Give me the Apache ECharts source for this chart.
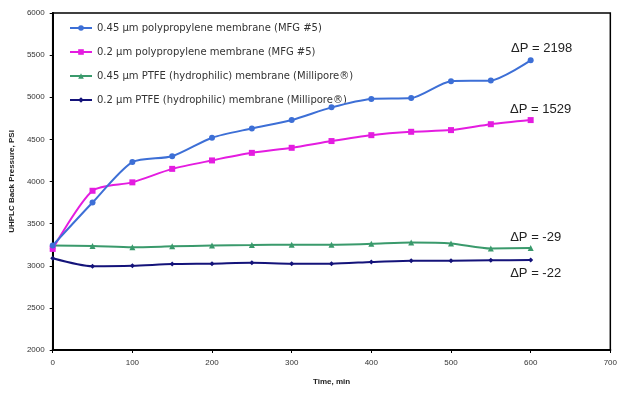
<!DOCTYPE html>
<html><head><meta charset="utf-8">
<script src="https://cdn.jsdelivr.net/npm/echarts@6/dist/echarts.min.js"></script>
<style>html,body{margin:0;padding:0;background:#fff}#c{width:620px;height:395px}</style>
</head><body><div id="c"></div>
<script>
const times = [0,50,100,150,200,250,300,350,400,450,500,550,600];
const seriesNames = [
  "0.45 µm polypropylene membrane (MFG #5)",
  "0.2 µm polypropylene membrane (MFG #5)",
  "0.45 µm PTFE (hydrophilic) membrane (Millipore®)",
  "0.2 µm PTFE (hydrophilic) membrane (Millipore®)"
];
const pp045 = [3240,3750,4230,4300,4520,4630,4730,4880,4980,4990,5190,5200,5438];
const pp02  = [3200,3890,3990,4150,4250,4340,4400,4480,4550,4590,4610,4680,4729];
const ptfe045 = [3240,3235,3220,3230,3240,3245,3250,3250,3260,3275,3265,3205,3211];
const ptfe02  = [3090,2995,3000,3020,3025,3035,3025,3025,3045,3060,3060,3065,3068];
const deltaLabels = ["ΔP = 2198","ΔP = 1529","ΔP = -29","ΔP = -22"];
const yTicks = [2000,2500,3000,3500,4000,4500,5000,5500,6000];
const xTicks = [0,100,200,300,400,500,600,700];

const colors = ['#3d6fd6','#e41ce0','#3a9a6c','#14137a'];
const symbols = ['circle','rect','triangle','diamond'];
const symSizes = [6,6,6,5];
const labelOffsets = [[11,-12],[10,-11],[5,-11],[5,13]];
const allData = [pp045,pp02,ptfe045,ptfe02];

const series = allData.map((vals,i)=>({
  name: seriesNames[i],
  type:'line',
  smooth:0.25,
  data: times.map((t,j)=>[t,vals[j]]),
  symbol: symbols[i],
  symbolSize: symSizes[i],
  lineStyle:{color:colors[i],width:2},
  itemStyle:{color:colors[i]},
  z: 10-i,
  markPoint:{
    symbol:'circle', symbolSize:0,
    data:[{coord:[times[times.length-1], vals[vals.length-1]], value: deltaLabels[i]}],
    label:{show:true, formatter:deltaLabels[i], offset:labelOffsets[i], color:'#222',
      fontFamily:'Liberation Sans, Arial, sans-serif', fontSize:13}
  }
}));

const chart = echarts.init(document.getElementById('c'));
chart.setOption({
  animation:false,
  backgroundColor:'#fff',
  grid:{left:52,right:8,top:13,bottom:45,show:true,borderColor:'#000',borderWidth:1.5},
  legend:{
    orient:'vertical', left:64, top:18, itemGap:14, itemWidth:22, itemHeight:7,
    textStyle:{fontFamily:'DejaVu Sans, Verdana, sans-serif', fontSize:10, color:'#333'},
    data: seriesNames
  },
  xAxis:{
    type:'value', min:xTicks[0], max:xTicks[xTicks.length-1], interval:100,
    name:'Time, min', nameLocation:'middle', nameGap:28,
    nameTextStyle:{fontFamily:'Liberation Sans, Arial, sans-serif', fontSize:8, fontWeight:'bold', color:'#222'},
    axisLine:{lineStyle:{color:'#000',width:2}},
    axisTick:{show:true,length:3,lineStyle:{color:'#000'}},
    axisLabel:{fontFamily:'Liberation Sans, Arial, sans-serif', fontSize:8, color:'#333', margin:9},
    splitLine:{show:false}
  },
  yAxis:{
    type:'value', min:yTicks[0], max:yTicks[yTicks.length-1], interval:500,
    name:'UHPLC Back Pressure, PSI', nameLocation:'middle', nameGap:32, nameRotate:90,
    nameTextStyle:{fontFamily:'Liberation Sans, Arial, sans-serif', fontSize:8, fontWeight:'bold', color:'#222'},
    axisLine:{show:true,lineStyle:{color:'#000',width:2}},
    axisTick:{show:true,length:3,lineStyle:{color:'#000'}},
    axisLabel:{fontFamily:'Liberation Sans, Arial, sans-serif', fontSize:8, color:'#333', margin:8,
      formatter:v=>String(v)},
    splitLine:{show:false}
  },
  series: series
});
</script>
</body></html>
